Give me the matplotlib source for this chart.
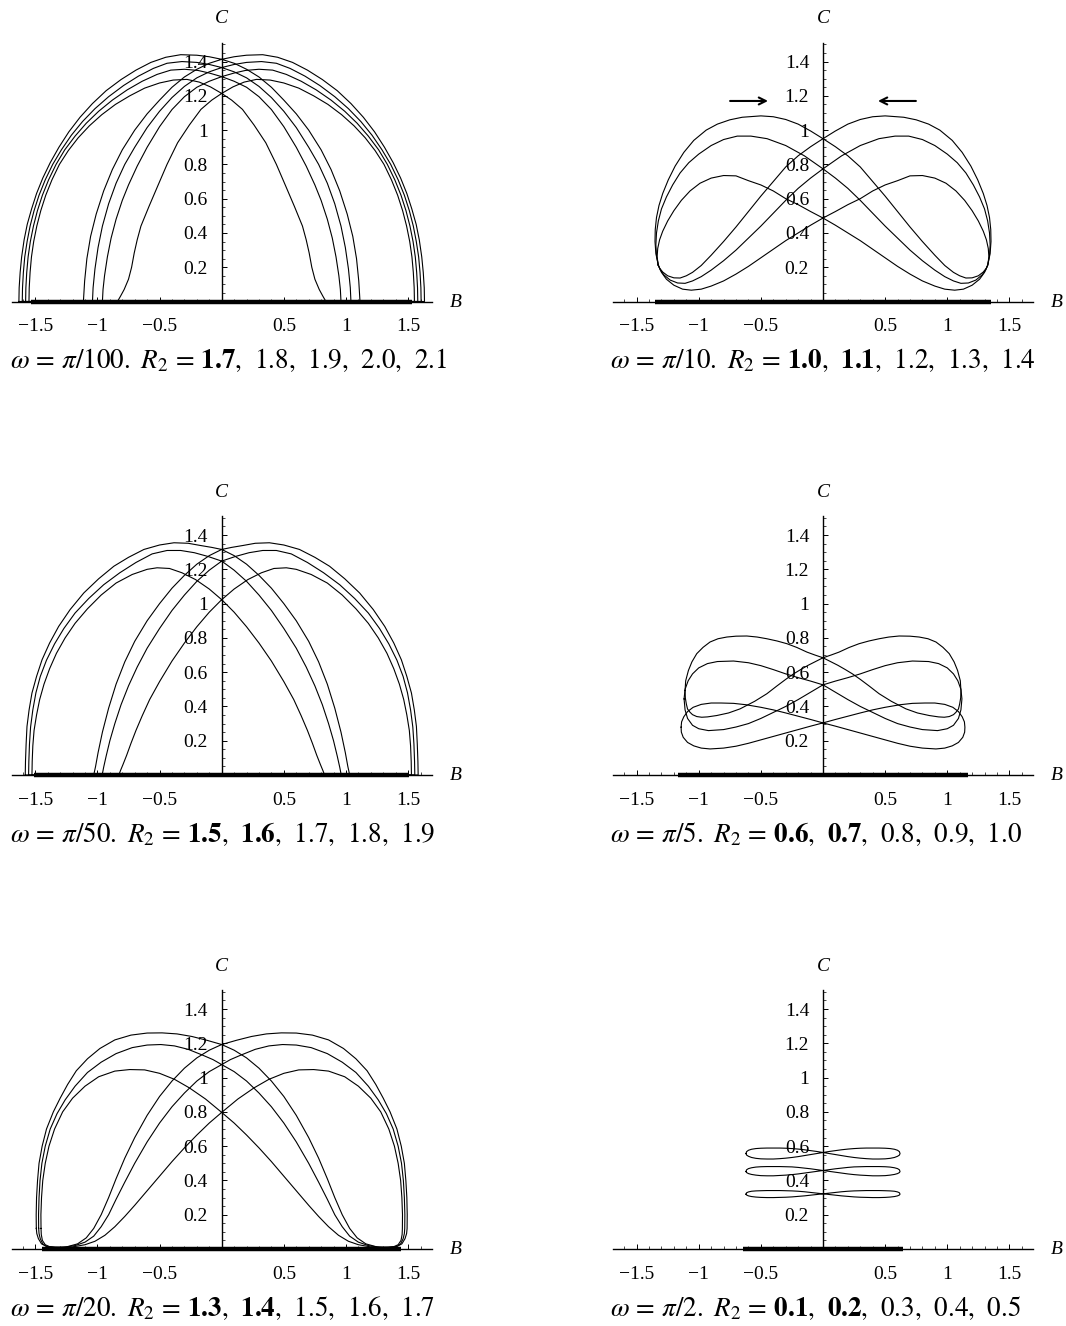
import matplotlib
matplotlib.use("Agg")
import matplotlib.pyplot as plt
import numpy as np
from matplotlib.ticker import FixedLocator, FixedFormatter, MultipleLocator

plt.rcParams["font.family"] = ["Liberation Serif", "DejaVu Serif"]
plt.rcParams["mathtext.fontset"] = "stix"

# ---- data ----
# each list is half of a closed curve as (B, C) points; the other half is its mirror B -> -B

# omega = pi/100, R2 = 1.8, 1.9, 2.0, 2.1
p100_r18 = [(-1.551, 0), (-1.549, 0.08), (-1.542, 0.17), (-1.531, 0.26), (-1.513, 0.35), (-1.488, 0.44),
            (-1.456, 0.53), (-1.416, 0.62), (-1.366, 0.71), (-1.306, 0.8), (-1.235, 0.88), (-1.155, 0.955),
            (-1.065, 1.025), (-0.965, 1.09), (-0.855, 1.15), (-0.74, 1.2), (-0.62, 1.245), (-0.5, 1.275),
            (-0.39, 1.292), (-0.28, 1.296), (-0.18, 1.28), (-0.09, 1.252), (0, 1.214),
            (0.08, 1.175), (0.167, 1.121), (0.26, 1.03), (0.355, 0.926), (0.44, 0.8), (0.516, 0.672),
            (0.585, 0.555), (0.65, 0.44), (0.68, 0.36), (0.704, 0.283), (0.725, 0.2), (0.75, 0.13),
            (0.785, 0.07), (0.815, 0.03), (0.839, 0)]
p100_r19 = [(-1.578, 0), (-1.576, 0.08), (-1.569, 0.17), (-1.558, 0.26), (-1.54, 0.35), (-1.515, 0.44),
            (-1.483, 0.53), (-1.443, 0.62), (-1.393, 0.71), (-1.333, 0.8), (-1.263, 0.885), (-1.18, 0.965),
            (-1.09, 1.04), (-0.99, 1.11), (-0.88, 1.175), (-0.76, 1.235), (-0.64, 1.285), (-0.52, 1.325),
            (-0.41, 1.35), (-0.3, 1.355), (-0.19, 1.348), (-0.1, 1.333), (0, 1.312),
            (0.1, 1.285), (0.2, 1.25), (0.3, 1.195), (0.4, 1.12), (0.5, 1.02), (0.6, 0.9), (0.68, 0.79),
            (0.75, 0.68), (0.8, 0.59), (0.85, 0.48), (0.89, 0.37), (0.92, 0.26), (0.943, 0.15),
            (0.955, 0.07), (0.96, 0)]
p100_r20 = [(-1.605, 0), (-1.603, 0.08), (-1.596, 0.17), (-1.585, 0.26), (-1.566, 0.35), (-1.542, 0.44),
            (-1.51, 0.53), (-1.47, 0.62), (-1.42, 0.71), (-1.36, 0.8), (-1.29, 0.885), (-1.21, 0.97),
            (-1.12, 1.05), (-1.02, 1.125), (-0.91, 1.195), (-0.79, 1.26), (-0.67, 1.315), (-0.55, 1.36),
            (-0.44, 1.39), (-0.32, 1.40), (-0.2, 1.395), (-0.1, 1.383), (0, 1.365),
            (0.1, 1.34), (0.2, 1.305), (0.3, 1.255), (0.4, 1.19), (0.5, 1.11), (0.6, 1.015), (0.7, 0.9),
            (0.78, 0.8), (0.85, 0.69), (0.91, 0.57), (0.96, 0.44), (0.995, 0.315), (1.02, 0.19),
            (1.035, 0.08), (1.04, 0)]
p100_r21 = [(-1.632, 0), (-1.63, 0.08), (-1.622, 0.17), (-1.61, 0.26), (-1.59, 0.36), (-1.565, 0.45),
            (-1.53, 0.54), (-1.49, 0.63), (-1.44, 0.72), (-1.38, 0.81), (-1.31, 0.9), (-1.23, 0.99),
            (-1.14, 1.075), (-1.04, 1.155), (-0.93, 1.23), (-0.81, 1.295), (-0.69, 1.35), (-0.57, 1.395),
            (-0.45, 1.425), (-0.33, 1.44), (-0.2, 1.437), (-0.1, 1.428), (0, 1.413),
            (0.1, 1.39), (0.2, 1.355), (0.3, 1.31), (0.4, 1.25), (0.5, 1.175), (0.6, 1.095), (0.7, 1.0),
            (0.8, 0.885), (0.88, 0.77), (0.95, 0.645), (1.01, 0.51), (1.055, 0.38), (1.085, 0.25),
            (1.103, 0.12), (1.113, 0)]

# omega = pi/50, R2 = 1.7, 1.8, 1.9
p50_r17 = [(-1.527, 0), (-1.525, 0.08), (-1.52, 0.17), (-1.51, 0.26), (-1.49, 0.35), (-1.465, 0.44),
           (-1.43, 0.53), (-1.385, 0.62), (-1.33, 0.71), (-1.26, 0.8), (-1.18, 0.885), (-1.08, 0.97),
           (-0.97, 1.05), (-0.85, 1.12), (-0.72, 1.17), (-0.6, 1.2), (-0.52, 1.209), (-0.42, 1.205),
           (-0.32, 1.18), (-0.21, 1.14), (-0.1, 1.085), (0, 1.023),
           (0.1, 0.95), (0.2, 0.865), (0.3, 0.77), (0.4, 0.665), (0.5, 0.545), (0.58, 0.44), (0.64, 0.345),
           (0.69, 0.26), (0.73, 0.185), (0.765, 0.115), (0.795, 0.06), (0.815, 0.025), (0.828, 0)]
p50_r18 = [(-1.554, 0), (-1.552, 0.08), (-1.547, 0.18), (-1.538, 0.28), (-1.52, 0.38), (-1.495, 0.48),
           (-1.46, 0.575), (-1.41, 0.67), (-1.345, 0.765), (-1.27, 0.855), (-1.18, 0.945), (-1.07, 1.03),
           (-0.95, 1.11), (-0.82, 1.18), (-0.69, 1.24), (-0.56, 1.29), (-0.44, 1.31), (-0.33, 1.31),
           (-0.22, 1.297), (-0.11, 1.275), (0, 1.248),
           (0.1, 1.195), (0.2, 1.13), (0.3, 1.05), (0.4, 0.96), (0.5, 0.855), (0.6, 0.74), (0.68, 0.63),
           (0.75, 0.52), (0.81, 0.41), (0.86, 0.3), (0.9, 0.2), (0.93, 0.11), (0.95, 0.045), (0.962, 0)]
p50_r19 = [(-1.581, 0), (-1.579, 0.08), (-1.574, 0.18), (-1.567, 0.283), (-1.55, 0.38), (-1.527, 0.478),
           (-1.49, 0.575), (-1.446, 0.672), (-1.385, 0.77), (-1.312, 0.867), (-1.22, 0.965), (-1.11, 1.062),
           (-0.99, 1.145), (-0.868, 1.218), (-0.75, 1.27), (-0.626, 1.316), (-0.5, 1.342), (-0.384, 1.355),
           (-0.27, 1.352), (-0.17, 1.339), (-0.08, 1.328), (0, 1.316),
           (0.1, 1.28), (0.2, 1.23), (0.3, 1.165), (0.4, 1.09), (0.5, 1.0), (0.6, 0.9), (0.7, 0.78),
           (0.78, 0.66), (0.85, 0.53), (0.91, 0.39), (0.96, 0.25), (0.995, 0.13), (1.015, 0.05), (1.03, 0)]

# omega = pi/20, R2 = 1.5, 1.6, 1.7
p20_r15 = [(-1.454, 0.12), (-1.455, 0.2), (-1.45, 0.3), (-1.44, 0.4), (-1.42, 0.5), (-1.39, 0.6),
           (-1.345, 0.7), (-1.28, 0.8), (-1.2, 0.88), (-1.1, 0.95), (-0.99, 1.005), (-0.86, 1.038),
           (-0.74, 1.047), (-0.62, 1.045), (-0.5, 1.025), (-0.38, 0.99), (-0.26, 0.94), (-0.13, 0.875),
           (0, 0.797),
           (0.1, 0.735), (0.2, 0.665), (0.3, 0.59), (0.4, 0.51), (0.5, 0.425), (0.6, 0.34), (0.7, 0.255),
           (0.78, 0.19), (0.86, 0.13), (0.94, 0.08), (1.02, 0.045), (1.1, 0.025), (1.2, 0.012), (1.3, 0.008),
           (1.38, 0.012), (1.42, 0.025), (1.443, 0.05), (1.452, 0.085), (1.454, 0.12)]
p20_r16 = [(-1.473, 0.12), (-1.474, 0.2), (-1.47, 0.3), (-1.462, 0.4), (-1.447, 0.5), (-1.42, 0.6),
           (-1.38, 0.7), (-1.325, 0.79), (-1.26, 0.87), (-1.18, 0.95), (-1.08, 1.03), (-0.97, 1.09),
           (-0.85, 1.14), (-0.72, 1.175), (-0.6, 1.19), (-0.49, 1.193), (-0.38, 1.185), (-0.27, 1.165),
           (-0.15, 1.13), (-0.07, 1.105), (0, 1.076),
           (0.1, 1.035), (0.2, 0.98), (0.3, 0.91), (0.4, 0.83), (0.5, 0.735), (0.6, 0.625), (0.7, 0.5),
           (0.78, 0.39), (0.85, 0.29), (0.91, 0.2), (0.97, 0.13), (1.03, 0.075), (1.1, 0.04), (1.18, 0.02),
           (1.27, 0.01), (1.35, 0.01), (1.41, 0.015), (1.44, 0.03), (1.46, 0.06), (1.47, 0.09), (1.473, 0.12)]
p20_r17 = [(-1.492, 0.12), (-1.493, 0.2), (-1.49, 0.3), (-1.482, 0.4), (-1.47, 0.5), (-1.445, 0.6),
           (-1.41, 0.7), (-1.355, 0.8), (-1.3, 0.88), (-1.24, 0.96), (-1.17, 1.04), (-1.08, 1.11),
           (-0.98, 1.17), (-0.86, 1.22), (-0.73, 1.248), (-0.6, 1.26), (-0.48, 1.261), (-0.36, 1.255),
           (-0.24, 1.24), (-0.12, 1.218), (0, 1.193),
           (0.1, 1.16), (0.2, 1.115), (0.3, 1.055), (0.4, 0.98), (0.5, 0.89), (0.6, 0.78), (0.7, 0.65),
           (0.78, 0.53), (0.85, 0.41), (0.91, 0.3), (0.97, 0.2), (1.03, 0.12), (1.09, 0.065), (1.16, 0.03),
           (1.25, 0.012), (1.34, 0.01), (1.41, 0.015), (1.45, 0.03), (1.475, 0.06), (1.488, 0.09), (1.492, 0.12)]

# omega = pi/10, R2 = 1.2, 1.3, 1.4
p10_r12 = [(-1.326, 0.213), (-1.335, 0.26), (-1.33, 0.31), (-1.315, 0.36), (-1.29, 0.41), (-1.25, 0.47),
           (-1.2, 0.53), (-1.14, 0.59), (-1.07, 0.645), (-0.99, 0.69), (-0.9, 0.72), (-0.8, 0.735),
           (-0.7, 0.733), (-0.6, 0.705), (-0.5, 0.68), (-0.4, 0.645), (-0.3, 0.60), (-0.2, 0.565),
           (-0.1, 0.525), (0, 0.487),
           (0.1, 0.445), (0.2, 0.40), (0.3, 0.355), (0.4, 0.305), (0.5, 0.255), (0.6, 0.205), (0.7, 0.16),
           (0.8, 0.12), (0.9, 0.09), (0.98, 0.072), (1.06, 0.066), (1.13, 0.072), (1.2, 0.095), (1.26, 0.13),
           (1.3, 0.17), (1.326, 0.213)]
p10_r13 = [(-1.326, 0.213), (-1.34, 0.27), (-1.345, 0.33), (-1.34, 0.40), (-1.325, 0.47), (-1.30, 0.54),
           (-1.26, 0.61), (-1.21, 0.68), (-1.15, 0.75), (-1.08, 0.81), (-1.0, 0.86), (-0.9, 0.91),
           (-0.8, 0.945), (-0.69, 0.965), (-0.58, 0.965), (-0.45, 0.95), (-0.3, 0.91), (-0.15, 0.85),
           (0, 0.774),
           (0.1, 0.72), (0.2, 0.66), (0.3, 0.59), (0.4, 0.515), (0.5, 0.44), (0.6, 0.37), (0.7, 0.30),
           (0.8, 0.238), (0.9, 0.183), (0.98, 0.145), (1.05, 0.12), (1.11, 0.106), (1.17, 0.108),
           (1.23, 0.125), (1.28, 0.155), (1.31, 0.185), (1.326, 0.213)]
p10_r14 = [(-1.326, 0.213), (-1.345, 0.28), (-1.352, 0.35), (-1.35, 0.42), (-1.34, 0.49), (-1.32, 0.56),
           (-1.29, 0.63), (-1.245, 0.71), (-1.19, 0.79), (-1.12, 0.87), (-1.04, 0.94), (-0.94, 1.0),
           (-0.85, 1.035), (-0.75, 1.06), (-0.65, 1.075), (-0.5, 1.083), (-0.4, 1.078), (-0.3, 1.062),
           (-0.2, 1.035), (-0.1, 0.995), (0, 0.95),
           (0.1, 0.903), (0.2, 0.85), (0.3, 0.785), (0.4, 0.70), (0.5, 0.615), (0.6, 0.525), (0.7, 0.435),
           (0.8, 0.35), (0.9, 0.27), (0.98, 0.21), (1.05, 0.17), (1.1, 0.15), (1.15, 0.137), (1.2, 0.138),
           (1.25, 0.15), (1.29, 0.172), (1.315, 0.195), (1.326, 0.213)]

# omega = pi/5, R2 = 0.8, 0.9, 1.0
p5_r08 = [(-1.142, 0.279), (-1.138, 0.31), (-1.12, 0.34), (-1.09, 0.37), (-1.045, 0.395), (-0.98, 0.412),
          (-0.9, 0.42), (-0.82, 0.42), (-0.72, 0.418), (-0.62, 0.41), (-0.5, 0.395), (-0.4, 0.38),
          (-0.3, 0.362), (-0.2, 0.343), (-0.1, 0.324), (0, 0.304),
          (0.1, 0.285), (0.2, 0.265), (0.3, 0.245), (0.4, 0.225), (0.5, 0.205), (0.6, 0.185), (0.7, 0.168),
          (0.8, 0.157), (0.909, 0.152), (0.98, 0.157), (1.04, 0.17), (1.09, 0.19), (1.125, 0.22),
          (1.14, 0.25), (1.142, 0.279)]
p5_r09 = [(-1.118, 0.444), (-1.11, 0.50), (-1.085, 0.55), (-1.05, 0.59), (-1.0, 0.625), (-0.93, 0.65),
          (-0.85, 0.662), (-0.72, 0.665), (-0.6, 0.655), (-0.5, 0.638), (-0.4, 0.615), (-0.3, 0.59),
          (-0.2, 0.568), (-0.1, 0.548), (0, 0.526),
          (0.1, 0.483), (0.2, 0.44), (0.3, 0.40), (0.4, 0.365), (0.5, 0.33), (0.6, 0.30), (0.7, 0.28),
          (0.8, 0.265), (0.922, 0.259), (1.0, 0.27), (1.05, 0.29), (1.09, 0.33), (1.11, 0.38), (1.118, 0.444)]
p5_r10 = [(-1.11, 0.493), (-1.105, 0.55), (-1.083, 0.61), (-1.055, 0.66), (-1.016, 0.708), (-0.965, 0.745),
          (-0.909, 0.776), (-0.845, 0.795), (-0.774, 0.805), (-0.7, 0.81), (-0.613, 0.811), (-0.53, 0.805),
          (-0.452, 0.795), (-0.37, 0.782), (-0.29, 0.766), (-0.21, 0.744), (-0.129, 0.717), (-0.065, 0.70),
          (0, 0.684),
          (0.06, 0.662), (0.12, 0.64), (0.18, 0.615), (0.237, 0.59), (0.3, 0.558), (0.37, 0.52), (0.452, 0.474),
          (0.55, 0.43), (0.667, 0.386), (0.76, 0.362), (0.855, 0.347), (0.93, 0.339), (0.976, 0.337),
          (1.016, 0.341), (1.05, 0.352), (1.07, 0.366), (1.09, 0.385), (1.10, 0.415), (1.108, 0.45), (1.11, 0.493)]

# omega = pi/2, R2 = 0.3, 0.4, 0.5 (same B positions for the three loops)
p2_B = [-0.62, -0.615, -0.6, -0.575, -0.54, -0.5, -0.45, -0.4, -0.35, -0.3, -0.25, -0.2, -0.15, -0.1, -0.05, 0,
        0.05, 0.1, 0.15, 0.2, 0.25, 0.3, 0.35, 0.4, 0.45, 0.5, 0.54, 0.575, 0.6, 0.615, 0.62]
p2_r03_C = [0.320, 0.328, 0.333, 0.337, 0.339, 0.340, 0.341, 0.341, 0.341, 0.340, 0.339, 0.337, 0.334, 0.330,
            0.326, 0.322, 0.318, 0.314, 0.310, 0.307, 0.304, 0.302, 0.301, 0.300, 0.300, 0.301, 0.303, 0.306,
            0.310, 0.315, 0.320]
p2_r04_C = [0.452, 0.462, 0.469, 0.474, 0.478, 0.480, 0.481, 0.481, 0.481, 0.480, 0.479, 0.476, 0.472, 0.468,
            0.463, 0.458, 0.453, 0.448, 0.443, 0.438, 0.434, 0.431, 0.429, 0.427, 0.427, 0.428, 0.431, 0.435,
            0.440, 0.446, 0.452]
p2_r05_C = [0.557, 0.568, 0.576, 0.582, 0.586, 0.588, 0.589, 0.589, 0.589, 0.588, 0.586, 0.583, 0.579, 0.574,
            0.569, 0.563, 0.557, 0.551, 0.545, 0.539, 0.534, 0.530, 0.527, 0.525, 0.525, 0.526, 0.529, 0.534,
            0.541, 0.548, 0.557]

# half length of the flat (bold R2) segment on C = 0
flat_half = {"100": 1.535, "50": 1.51, "20": 1.445, "10": 1.35, "5": 1.17, "2": 0.64}

# caption parts
omega_den = ["100", "10", "50", "5", "20", "2"]
r2_bold = [["1.7"], ["1.0", "1.1"], ["1.5", "1.6"], ["0.6", "0.7"], ["1.3", "1.4"], ["0.1", "0.2"]]
r2_plain = [["1.8", "1.9", "2.0", "2.1"], ["1.2", "1.3", "1.4"], ["1.7", "1.8", "1.9"],
            ["0.8", "0.9", "1.0"], ["1.5", "1.6", "1.7"], ["0.3", "0.4", "0.5"]]

x_ticks = [-1.5, -1.0, -0.5, 0.5, 1.0, 1.5]
x_tick_labels = ["\u22121.5", "\u22121", "\u22120.5", "0.5", "1", "1.5"]
y_ticks = [0.2, 0.4, 0.6, 0.8, 1.0, 1.2, 1.4]
y_tick_labels = ["0.2", "0.4", "0.6", "0.8", "1", "1.2", "1.4"]

curves = {
    "100": [p100_r18, p100_r19, p100_r20, p100_r21],
    "50": [p50_r17, p50_r18, p50_r19],
    "20": [p20_r15, p20_r16, p20_r17],
    "10": [p10_r12, p10_r13, p10_r14],
    "5": [p5_r08, p5_r09, p5_r10],
    "2": [list(zip(p2_B, p2_r03_C)), list(zip(p2_B, p2_r04_C)), list(zip(p2_B, p2_r05_C))],
}


def Caption(i):
    parts = [r"\mathbf{%s}" % v for v in r2_bold[i]] + r2_plain[i]
    return r"$\omega\,=\,\pi/%s.\ R_2\,=\,%s$" % (omega_den[i], r",\;\,".join(parts))


def DrawPanel(ax, key):
    for half in curves[key]:
        half = np.array(half)
        hb = half[:, 0]
        hc = half[:, 1]
        # closed curve: the half, then its mirror image
        b = np.concatenate([hb, -hb, hb[:1]])
        c = np.concatenate([hc, hc, hc[:1]])
        ax.plot(b, c, color="black", lw=0.8, clip_on=False)

    h = flat_half[key]
    ax.plot([-h, h], [0, 0], color="black", lw=3.2, solid_capstyle="butt", clip_on=False)

    ax.set_xlim(-1.69, 1.69)
    ax.set_ylim(0, 1.51)
    ax.spines["left"].set_position(("data", 0))
    ax.spines["top"].set_visible(False)
    ax.spines["right"].set_visible(False)
    ax.spines["left"].set_linewidth(1.0)
    ax.spines["bottom"].set_linewidth(1.0)

    ax.xaxis.set_major_locator(FixedLocator(x_ticks))
    ax.xaxis.set_major_formatter(FixedFormatter(x_tick_labels))
    ax.xaxis.set_minor_locator(MultipleLocator(0.1))
    ax.yaxis.set_major_locator(FixedLocator(y_ticks))
    ax.yaxis.set_major_formatter(FixedFormatter(y_tick_labels))
    ax.yaxis.set_minor_locator(MultipleLocator(0.05))

    ax.tick_params(axis="x", which="major", direction="in", length=3.5, width=0.7, pad=12, labelsize=14)
    ax.tick_params(axis="x", which="minor", direction="in", length=2, width=0.5)
    ax.tick_params(axis="y", which="major", direction="in", length=3.5, width=0.7, pad=10, labelsize=14)
    ax.tick_params(axis="y", which="minor", direction="in", length=2, width=0.5)

    ax.annotate("C", xy=(0, 1), xycoords=("data", "axes fraction"), xytext=(0, 24),
                textcoords="offset pixels", ha="center", va="center", fontsize=14, style="italic")
    ax.annotate("B", xy=(1, 0), xycoords="axes fraction", xytext=(24, -1),
                textcoords="offset pixels", ha="center", va="center", fontsize=14, style="italic")
    ax.patch.set_visible(False)


def main():
    fig = plt.figure(figsize=(10.66, 13.26), dpi=100)

    axis_y = [301.5, 775, 1249]          # pixel row of the B axis in each row of panels
    col_left = [11.7 / 1066, 613 / 1066]
    caption_x = [10 / 1066, 610 / 1066]
    width = 420 / 1066
    height = 258.8 / 1326

    # panel order: row by row, left then right
    for i, key in enumerate(omega_den):
        row = i // 2
        col = i % 2
        ax = fig.add_axes([col_left[col], 1 - axis_y[row] / 1326, width, height])
        DrawPanel(ax, key)
        fig.text(caption_x[col], 1 - (axis_y[row] + 67) / 1326, Caption(i),
                 ha="left", va="baseline", fontsize=19.5)

        if key == "10":
            ax.annotate("", xy=(-0.42, 1.17), xytext=(-0.77, 1.17),
                        arrowprops=dict(arrowstyle="->,head_length=0.5,head_width=0.25", lw=1.5, color="black"))
            ax.annotate("", xy=(0.42, 1.17), xytext=(0.77, 1.17),
                        arrowprops=dict(arrowstyle="->,head_length=0.5,head_width=0.25", lw=1.5, color="black"))

    fig.savefig("out.png", dpi=100)


if __name__ == "__main__":
    main()
